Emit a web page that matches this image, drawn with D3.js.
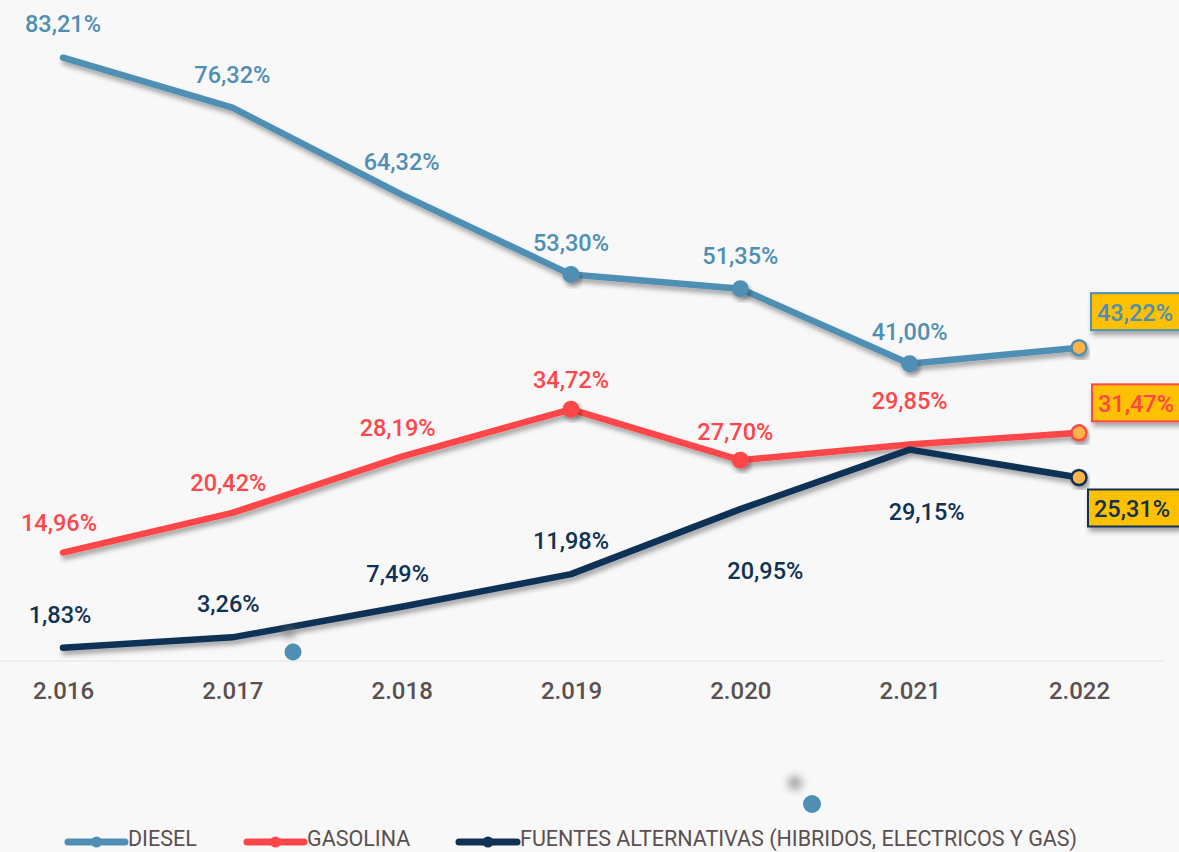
<!DOCTYPE html>
<html><head><meta charset="utf-8">
<script src="https://cdn.jsdelivr.net/npm/d3@7"></script>
<style>
html,body{margin:0;padding:0;background:#f8f8f8;}
svg{display:block;font-family:Roboto,"Noto Sans",sans-serif;}
</style></head>
<body>
<svg id="c" width="1179" height="852"></svg>
<script>
const years = ["2.016","2.017","2.018","2.019","2.020","2.021","2.022"];
const diesel = [83.21, 76.32, 64.32, 53.30, 51.35, 41.00, 43.22];
const gasolina = [14.96, 20.42, 28.19, 34.72, 27.70, 29.85, 31.47];
const fuentes = [1.83, 3.26, 7.49, 11.98, 20.95, 29.15, 25.31];
const seriesNames = ["DIESEL","GASOLINA","FUENTES ALTERNATIVAS (HIBRIDOS, ELECTRICOS Y GAS)"];
const colors = ["#4f8fb3","#ff474a","#0f3254"];

const svg = d3.select("#c");
const W = 1179, H = 852;
svg.append("rect").attr("width",W).attr("height",H).attr("fill","#f8f8f8");

const defs = svg.append("defs");
const f = defs.append("filter").attr("id","sh").attr("x","-10%").attr("y","-10%").attr("width","130%").attr("height","140%");
f.append("feDropShadow").attr("dx",2).attr("dy",4).attr("stdDeviation",2.5).attr("flood-color","#000").attr("flood-opacity",0.35);
const fb = defs.append("filter").attr("id","blur").attr("x","-100%").attr("y","-100%").attr("width","300%").attr("height","300%");
fb.append("feGaussianBlur").attr("stdDeviation",4);

const x = d3.scalePoint().domain(years).range([63,1079]);
const y = d3.scaleLinear().domain([0,100]).range([661,-64]);

// baseline / axis
const axis = svg.append("g").attr("transform","translate(0,661)")
  .call(d3.axisBottom(x).tickSize(0).tickPadding(21));
axis.select(".domain").attr("stroke","#ebebeb").attr("stroke-width",1.5).attr("d","M0,0H1164");
axis.selectAll("text").attr("font-size",24).attr("fill","#5b5050").attr("font-family","Roboto, sans-serif").attr("font-weight",500);

const data = [diesel, gasolina, fuentes];
const line = d3.line().x((d,i)=>x(years[i])).y(d=>y(d));

data.forEach((s,k)=>{
  svg.append("path").datum(s).attr("d",line).attr("fill","none")
    .attr("stroke",colors[k]).attr("stroke-width",6.5).attr("stroke-linecap","round").attr("stroke-linejoin","round")
    .attr("filter","url(#sh)");
});

// markers
const markerIdx = [[3,4,5],[3,4],[]];
markerIdx.forEach((idx,k)=>{
  svg.selectAll(null).data(idx).enter().append("circle")
    .attr("cx",i=>x(years[i])).attr("cy",i=>y(data[k][i])).attr("r",8.5)
    .attr("fill",colors[k]).attr("filter","url(#sh)");
});
// last point markers (orange)
data.forEach((s,k)=>{
  svg.append("circle").attr("cx",x(years[6])).attr("cy",y(s[6])).attr("r",7.5)
    .attr("fill","#ffb347").attr("stroke",colors[k]).attr("stroke-width",2.5).attr("filter","url(#sh)");
});

// labels
const offs = [
  [[0,-34],[0,-33],[0,-33],[0,-32],[0,-33],[0,-32]],
  [[-4,-30],[-4,-30],[-4,-29],[0,-29],[-5,-28],[0,-44]],
  [[-3,-33],[-4,-33],[-4,-33],[0,-33],[25,62],[17,62]]
];
const fmt = v => v.toFixed(2).replace(".",",")+"%";
data.forEach((s,k)=>{
  for(let i=0;i<6;i++){
    svg.append("text").attr("x",x(years[i])+offs[k][i][0]).attr("y",y(s[i])+offs[k][i][1])
      .attr("text-anchor","middle").attr("dominant-baseline","central")
      .attr("font-size",23.5).attr("font-weight",500).attr("fill",colors[k]).text(fmt(s[i]));
  }
});
// boxed last labels
const boxes = [[1091,-36],[1092,-30],[1088,30.5]];
data.forEach((s,k)=>{
  const cy = y(s[6]) + boxes[k][1];
  const g = svg.append("g");
  g.append("rect").attr("x",boxes[k][0]).attr("y",cy-18.5).attr("width",92).attr("height",37)
    .attr("fill","#ffc000").attr("stroke",colors[k]).attr("stroke-width",2).attr("filter","url(#sh)");
  g.append("text").attr("x",boxes[k][0]+6).attr("y",cy+1).attr("dominant-baseline","central")
    .attr("font-size",23.5).attr("font-weight",500).attr("fill",colors[k]).text(fmt(s[6]));
});

// stray dots
svg.append("circle").attr("cx",289).attr("cy",633).attr("r",6).attr("fill","#777").attr("opacity",0.6).attr("filter","url(#blur)");
svg.append("circle").attr("cx",293).attr("cy",652).attr("r",8.5).attr("fill",colors[0]);
svg.append("circle").attr("cx",795).attr("cy",783).attr("r",7).attr("fill","#777").attr("opacity",0.7).attr("filter","url(#blur)");
svg.append("circle").attr("cx",812).attr("cy",804).attr("r",9).attr("fill",colors[0]);

// legend
const leg = [[68,125],[247,304],[459,517]];
seriesNames.forEach((n,k)=>{
  const g = svg.append("g");
  g.append("line").attr("x1",leg[k][0]).attr("x2",leg[k][1]).attr("y1",842).attr("y2",842)
    .attr("stroke",colors[k]).attr("stroke-width",7).attr("stroke-linecap","round");
  g.append("circle").attr("cx",(leg[k][0]+leg[k][1])/2).attr("cy",842).attr("r",5.5).attr("fill",colors[k]);
  g.append("text").attr("x",leg[k][1]+3).attr("y",846)
    .attr("font-size",21.5).attr("fill","#5b5050").text(n);
});
</script>
</body></html>
